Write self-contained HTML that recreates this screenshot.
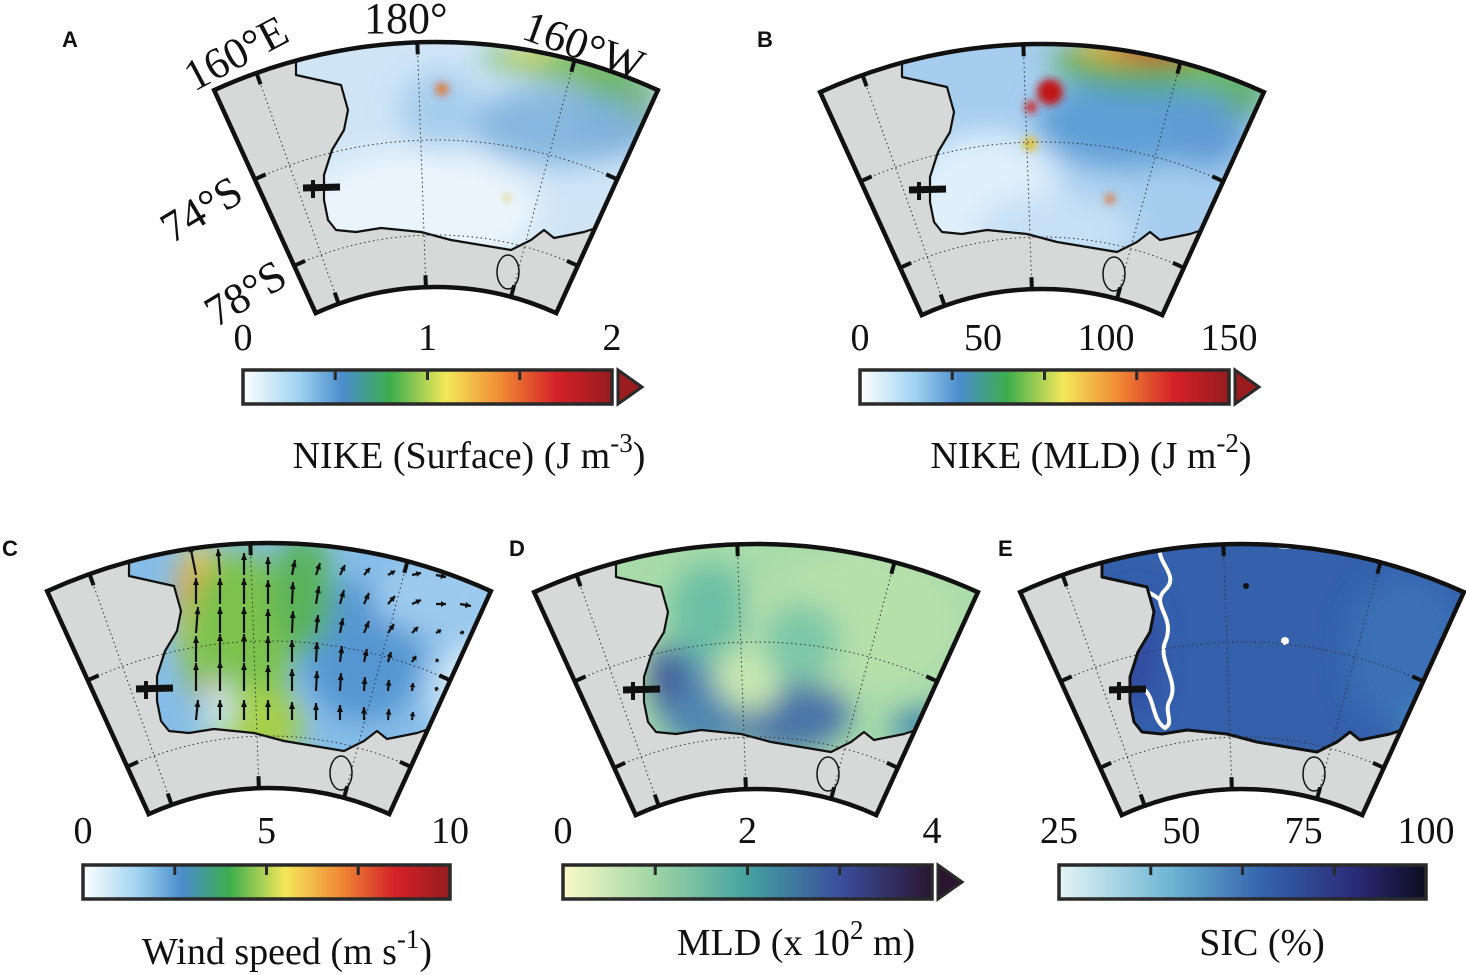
<!DOCTYPE html>
<html><head><meta charset="utf-8"><style>
html,body{margin:0;padding:0;background:#fff;overflow:hidden;}
svg{display:block;}
text{font-family:"Liberation Serif",serif;fill:#111;}
.lett{font-family:"Liberation Sans",sans-serif;font-weight:bold;font-size:22px;}
</style></head><body>
<svg id="fig" width="1466" height="975" viewBox="0 0 1466 975" xmlns="http://www.w3.org/2000/svg">
<defs>
<filter id="blur" x="-50%" y="-50%" width="200%" height="200%"><feGaussianBlur stdDeviation="14"/></filter>
<filter id="blurS" x="-50%" y="-50%" width="200%" height="200%"><feGaussianBlur stdDeviation="4"/></filter>
<linearGradient id="g-jet" x1="0" x2="1" y1="0" y2="0">
<stop offset="0" stop-color="#ffffff"/><stop offset="0.15" stop-color="#9fd3f0"/><stop offset="0.27" stop-color="#4a8ccc"/><stop offset="0.4" stop-color="#3cae4c"/><stop offset="0.55" stop-color="#f3e85a"/><stop offset="0.7" stop-color="#f08a35"/><stop offset="0.85" stop-color="#d42128"/><stop offset="1" stop-color="#961c1e"/>
</linearGradient>
<linearGradient id="g-deep" x1="0" x2="1" y1="0" y2="0">
<stop offset="0" stop-color="#fafac8"/><stop offset="0.25" stop-color="#9ed4a4"/><stop offset="0.5" stop-color="#44a2a0"/><stop offset="0.75" stop-color="#3a4f9e"/><stop offset="1" stop-color="#2a1630"/>
</linearGradient>
<linearGradient id="g-ice" x1="0" x2="1" y1="0" y2="0">
<stop offset="0" stop-color="#e4f5f5"/><stop offset="0.3" stop-color="#6fb6d4"/><stop offset="0.55" stop-color="#3465ad"/><stop offset="0.8" stop-color="#2b2c7a"/><stop offset="1" stop-color="#0e0c20"/>
</linearGradient>
</defs>
<g id="maps"></g>
<g id="bars"></g>
<text x="62" y="47" class="lett">A</text>
<text x="757" y="47" class="lett">B</text>
<text x="2" y="556" class="lett">C</text>
<text x="509" y="556" class="lett">D</text>
<text x="998" y="556" class="lett">E</text>
<text x="0" y="0" font-size="44" transform="translate(194,92) rotate(-28)">160°E</text>
<text x="364" y="33" font-size="44">180°</text>
<text x="0" y="0" font-size="44" transform="translate(520,38) rotate(20)">160°W</text>
<text x="0" y="0" font-size="44" transform="translate(172,244) rotate(-31)">74°S</text>
<text x="0" y="0" font-size="44" transform="translate(216,328) rotate(-31)">78°S</text>
</svg>
<script>
// ---------- colorbar data ----------
const ticksA = ["0","1","2"];
const ticksB = ["0","50","100","150"];
const ticksC = ["0","5","10"];
const ticksD = ["0","2","4"];
const ticksE = ["25","50","75","100"];
// ---------- wind field (panel C), rows north->south, u (east) and v (north) in px ----------
const windU = [
 [-6,-2,0,0,3,4,5,6,7,9,10,11],
 [0,0,0,0,1,3,4,5,7,9,10,11],
 [2,0,0,0,1,2,3,5,6,6,5,4],
 [0,0,0,0,0,1,2,3,3,4,2,1],
 [0,0,0,0,0,1,1,1,1,1,1,3],
 [2,0,0,0,0,0,0,0,1,1,2,3]
];
const windV = [
 [30,26,22,18,15,12,10,7,4,2,-2,-3],
 [26,26,26,24,22,18,14,11,8,4,0,-2],
 [26,26,26,24,22,18,15,12,9,6,3,1],
 [26,28,28,26,22,20,16,13,10,6,3,0],
 [28,30,28,26,22,20,18,14,11,8,4,-1],
 [20,20,20,20,18,17,15,13,11,8,5,0]
];

const NS="http://www.w3.org/2000/svg";
function el(tag,attrs,parent){const e=document.createElementNS(NS,tag);for(const k in attrs)e.setAttribute(k,attrs[k]);if(parent)parent.appendChild(e);return e;}
const maps=document.getElementById('maps');
const bars=document.getElementById('bars');

const CX=436,CY=577,RO=535,RI=290,HA=24.5*Math.PI/180;
function pt(cx,cy,r,a){return [cx+r*Math.sin(a),cy-r*Math.cos(a)];}
function sectorPath(cx,cy){
 const a=pt(cx,cy,RO,-HA),b=pt(cx,cy,RO,HA),c=pt(cx,cy,RI,HA),d=pt(cx,cy,RI,-HA);
 return `M${a} A${RO},${RO} 0 0 1 ${b} L${c} A${RI},${RI} 0 0 0 ${d} Z`;
}
const landRel=[[-140,-502],[-95,-492],[-88,-467],[-92,-447],[-104,-427],[-112,-402],[-112,-377],[-108,-357],[-100,-347],[-80,-345],[-55,-349],[-15,-345],[15,-337],[45,-332],[75,-327],[95,-337],[108,-347],[118,-339],[133,-342],[148,-345],[163,-350],[178,-362],[200,-380],[300,-380],[300,0],[-300,0],[-300,-600],[-140,-600]];

const panels=[
 {id:'a',dx:0,dy:0,base:'#cfe5f6',blobs:[
   [420,210,120,60,'#eaf4fc'],[560,125,90,40,'#86b7e0'],[620,115,40,40,'#7fb1dc'],[440,110,40,40,'#a6cdec'],
   [555,58,75,14,'#5cb65a'],[530,52,25,8,'#e2dc44'],[615,80,40,18,'#6cb660'],[570,72,40,10,'#88c060'],[640,100,20,20,'#7ab58a']],
   dots:[[442,89,6,'#e03020'],[442,89,2.5,'#f0d030'],[507,198,3,'#e0c030']]},
 {id:'b',dx:606,dy:2,base:'#a6cdee',blobs:[
   [380,200,80,70,'#e0f0fb'],[520,120,90,45,'#5f9fd6'],[600,125,40,40,'#5e9bd4'],[450,230,80,40,'#c6e0f5'],
   [555,60,110,28,'#52ae50'],[520,47,50,14,'#e0b030'],[560,45,55,14,'#d63020'],[610,68,40,22,'#6cbc58'],[640,96,22,20,'#5fae70']],
   dots:[[444,90,13,'#c01818'],[425,105,6,'#d02020'],[424,142,7,'#e0c030'],[504,197,5,'#e07030']]},
 {id:'c',dx:-167,dy:501,base:'#86bde8',blobs:[
   [365,110,22,70,'#f2d050'],[358,90,12,28,'#f09040'],[405,140,55,90,'#7cc24e'],[420,225,50,40,'#a6d048'],
   [385,205,14,28,'#cde7f8'],[372,188,6,10,'#ef7a30'],[530,150,60,70,'#5496d2'],[640,195,40,55,'#d8ecfa'],[610,95,70,40,'#9ccaee'],[470,90,30,60,'#58b25a']],
   dots:[]},
 {id:'d',dx:320,dy:502,base:'#a8dba9',blobs:[
   [385,190,50,60,'#4f86b0'],[345,175,15,30,'#3a4894'],[470,210,60,40,'#4a74a8'],[430,150,40,60,'#c8e8b0'],
   [540,120,100,70,'#b6e0aa'],[390,110,40,50,'#6cc0a4'],[480,140,40,40,'#7cc8a8'],[610,225,40,20,'#4a8cb0']],
   dots:[]},
 {id:'e',dx:806,dy:502,base:'#3460ac',blobs:[
   [600,150,60,80,'#3a6fb6'],[330,150,20,60,'#3348a0'],[620,225,20,15,'#4aa0c8']],
   dots:[[440,84,3,'#111'],[479,139,4,'#fff']]}
];

panels.forEach(p=>{
 const cx=CX+p.dx,cy=CY+p.dy;
 const g=el('g',{},maps);
 
 
 const cp=el('clipPath',{id:'clip-'+p.id},g);
 el('path',{d:sectorPath(cx,cy)},cp);
 const inner=el('g',{'clip-path':`url(#clip-${p.id})`},g);
 el('path',{d:sectorPath(cx,cy),fill:p.base},inner);
 const bg=el('g',{filter:'url(#blur)'},inner);
 p.blobs.forEach(b=>el('ellipse',{cx:b[0]+p.dx,cy:b[1]+p.dy,rx:b[2],ry:b[3],fill:b[4]},bg));
 const dg=el('g',{filter:'url(#blurS)'},inner);
 p.dots.forEach(d=>el('circle',{cx:d[0]+p.dx,cy:d[1]+p.dy,r:d[2],fill:d[3]},p.id==='e'?inner:dg));
 if(p.id==='e'){
  const wc=el('path',{d:`M1080 560 C1140 545 1180 535 1200 540 M1162 545 C1152 560 1182 575 1165 590 C1150 605 1175 615 1166 640 C1156 660 1180 680 1170 700 C1163 712 1175 722 1165 728 C1152 720 1155 700 1145 690 M1090 578 C1130 585 1150 590 1160 600 M1275 545 C1285 548 1295 547 1300 543`,fill:'none',stroke:'#fff','stroke-width':4},inner);
  
  
 }
 if(p.id==='c'){
  const ag=el('g',{stroke:'#111','stroke-width':2.2,fill:'#111'},inner);
  
  
  windU.forEach((row,i)=>row.forEach((u,j)=>{
   const v=windV[i][j];
   const x0=196+j*24, y0=575+i*29;
   const x1=x0+u, y1=y0-v;
   const L=Math.hypot(u,v); if(L<2) return;
   const a=el('line',{x1:x0,y1:y0,x2:x1,y2:y1},ag);
   
   
   const ux=u/L,uy=-v/L, hl=Math.min(7,L*0.5), hx=x1-ux*hl, hy=y1-uy*hl;
   el('polygon',{points:`${x1},${y1} ${hx-uy*3},${hy+ux*3} ${hx+uy*3},${hy-ux*3}`,stroke:'none'},ag);
  }));
 }
 const d='M'+landRel.map(q=>[q[0]+cx,q[1]+cy].join(',')).join(' L')+' Z';
 const land=el('path',{d,fill:'#d7d8d8',stroke:'#111','stroke-width':p.id==='e'?3:2.2,'stroke-linejoin':'round'},inner);
 
 
 el('ellipse',{cx:508+p.dx,cy:272+p.dy,rx:11,ry:17,fill:'none',stroke:'#111','stroke-width':1.5},inner);
 el('line',{x1:303+p.dx,y1:188+p.dy,x2:340+p.dx,y2:187+p.dy,stroke:'#111','stroke-width':7},inner);
 el('line',{x1:313+p.dx,y1:180+p.dy,x2:313+p.dx,y2:198+p.dy,stroke:'#111','stroke-width':4},inner);
 const gg=el('g',{fill:'none',stroke:'#333','stroke-width':1,'stroke-dasharray':'1.5,3'},inner);
 [437,342].forEach(r=>{const a=pt(cx,cy,r,-HA-0.1),b=pt(cx,cy,r,HA+0.1);el('path',{d:`M${a} A${r},${r} 0 0 1 ${b}`},gg);});
 [-19.6,-2.0,15].forEach(deg=>{const t=deg*Math.PI/180;const a=pt(cx,cy,RO,t),b=pt(cx,cy,RI,t);el('line',{x1:a[0],y1:a[1],x2:b[0],y2:b[1]},gg);});
 el('path',{d:sectorPath(cx,cy),fill:'none',stroke:'#111','stroke-width':4.5,'stroke-linejoin':'miter'},g);
 [-19.6,-2.0,15].forEach(deg=>{const t=deg*Math.PI/180;
  [[RO,RO-12],[RI,RI+12]].forEach(rr=>{const a=pt(cx,cy,rr[0],t),b=pt(cx,cy,rr[1],t);el('line',{x1:a[0],y1:a[1],x2:b[0],y2:b[1],stroke:'#111','stroke-width':4},g);});});
 [437,342].forEach(r=>[-HA,HA].forEach(s=>{const n=s<0?1:-1;const a=pt(cx,cy,r,s);const dir=[Math.cos(s)*n,Math.sin(s)*n];el('line',{x1:a[0],y1:a[1],x2:a[0]+dir[0]*12,y2:a[1]+dir[1]*12,stroke:'#111','stroke-width':4},g);}));
});

const cbs=[
 {id:'a',x:243,y:370,w:369,grad:'g-jet',ticks:ticksA,tri:'#9a1c1e',lab:['NIKE (Surface) (J m','-3',')'],lx:469,ly:468,ty:350},
 {id:'b',x:860,y:370,w:369,grad:'g-jet',ticks:ticksB,tri:'#9a1c1e',lab:['NIKE (MLD) (J m','-2',')'],lx:1091,ly:468,ty:350},
 {id:'c',x:83,y:865,w:367,grad:'g-jet',ticks:ticksC,tri:null,lab:['Wind speed (m s','-1',')'],lx:287,ly:964,ty:843},
 {id:'d',x:563,y:865,w:369,grad:'g-deep',ticks:ticksD,tri:'#2a1630',lab:['MLD (x 10','2',' m)'],lx:796,ly:955,ty:843},
 {id:'e',x:1059,y:865,w:367,grad:'g-ice',ticks:ticksE,tri:null,lab:['SIC (%)','',''],lx:1262,ly:955,ty:843}
];
cbs.forEach(c=>{
 const g=el('g',{},bars);
 
 
 el('rect',{x:c.x,y:c.y,width:c.w,height:34,fill:`url(#${c.grad})`,stroke:'#2a2a2a','stroke-width':3.5},g);
 for(let k=1;k<4;k++){const x=c.x+c.w*k/4;el('line',{x1:x,y1:c.y,x2:x,y2:c.y+10,stroke:'#2a2a2a','stroke-width':3},g);}
 if(c.tri){const t=el('polygon',{points:`${c.x+c.w+6},${c.y} ${c.x+c.w+30},${c.y+17} ${c.x+c.w+6},${c.y+34}`,fill:c.tri,stroke:'#2a2a2a','stroke-width':3},g);
  
  }
 const n=c.ticks.length;
 c.ticks.forEach((s,i)=>{const t=el('text',{x:c.x+c.w*i/(n-1),y:c.ty,'font-size':38,'text-anchor':'middle'},g);t.textContent=s;
  
  });
 const lt=el('text',{x:c.lx,y:c.ly,'font-size':38,'text-anchor':'middle'},g);
 
 
 const t1=el('tspan',{},lt);t1.textContent=c.lab[0];
 if(c.lab[1]){const t2=el('tspan',{dy:-16,'font-size':27},lt);t2.textContent=c.lab[1];
  const t3=el('tspan',{dy:16},lt);t3.textContent=c.lab[2];}
});
</script>
</body></html>
